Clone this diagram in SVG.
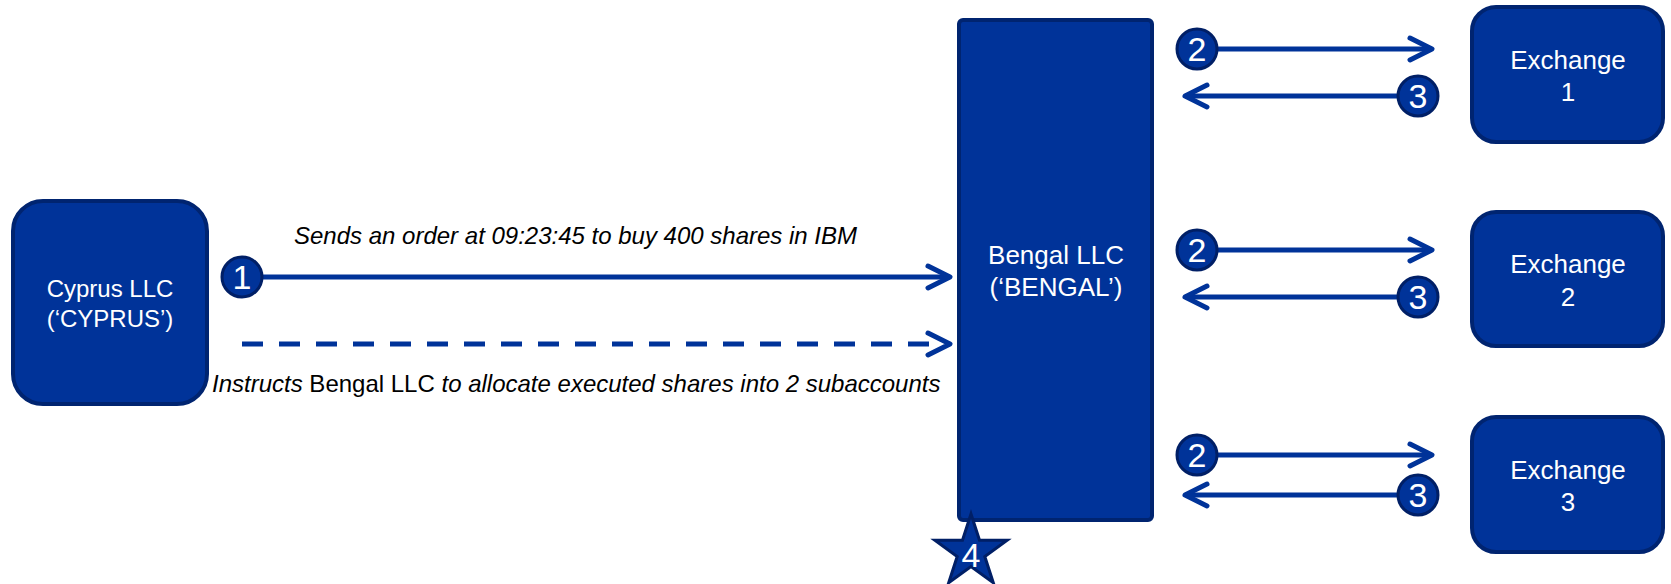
<svg xmlns="http://www.w3.org/2000/svg" width="1671" height="584" viewBox="0 0 1671 584">
<style>
.box{fill:#003399;stroke:#002470;stroke-width:4}
.lbl{font-family:"Liberation Sans",Arial,sans-serif;font-size:26px;fill:#ffffff;text-anchor:middle}
.lbl24{font-size:24px}
.cap{font-family:"Liberation Sans",Arial,sans-serif;font-size:24px;fill:#000000}
.num{font-family:"Liberation Sans",Arial,sans-serif;font-size:34px;fill:#ffffff;text-anchor:middle}
.badge{fill:#003399;stroke:#001f66;stroke-width:3}
.ln{stroke:#003399;stroke-width:5;fill:none}
</style>
<defs>
<marker id="chev" markerUnits="userSpaceOnUse" markerWidth="32" markerHeight="32" refX="26" refY="16" orient="auto" overflow="visible">
<path d="M4,5 L26,16 L4,27" fill="none" stroke="#003399" stroke-width="5" stroke-linecap="round" stroke-linejoin="round" stroke-dasharray="none"/>
</marker>
</defs>

<g id="connectors">
<line class="ln" x1="262" y1="277" x2="950" y2="277" marker-end="url(#chev)"/>
<line class="ln" x1="242" y1="344" x2="950" y2="344" stroke-dasharray="21 16" marker-end="url(#chev)"/>
<line class="ln" x1="1218" y1="49" x2="1432" y2="49" marker-end="url(#chev)"/>
<line class="ln" x1="1398" y1="96" x2="1185" y2="96" marker-end="url(#chev)"/>
<line class="ln" x1="1218" y1="250" x2="1432" y2="250" marker-end="url(#chev)"/>
<line class="ln" x1="1398" y1="297" x2="1185" y2="297" marker-end="url(#chev)"/>
<line class="ln" x1="1218" y1="455" x2="1432" y2="455" marker-end="url(#chev)"/>
<line class="ln" x1="1398" y1="495" x2="1185" y2="495" marker-end="url(#chev)"/>
<text class="cap" x="294" y="244" font-style="italic">Sends an order at 09:23:45 to buy 400 shares in IBM</text>
<text class="cap" x="212" y="392"><tspan font-style="italic">Instructs</tspan> Bengal LLC <tspan font-style="italic">to allocate executed shares into 2 subaccounts</tspan></text>
</g>

<g id="cyprus">
<rect class="box" x="13" y="201" width="194" height="203" rx="30"/>
<text class="lbl lbl24" x="110" y="297">Cyprus LLC</text>
<text class="lbl lbl24" x="110" y="327">(‘CYPRUS’)</text>
</g>

<g id="bengal">
<rect class="box" x="959" y="20" width="193" height="500" rx="4"/>
<text class="lbl" x="1056" y="264">Bengal LLC</text>
<text class="lbl" x="1056" y="296">(‘BENGAL’)</text>
</g>

<g id="exchange1">
<rect class="box" x="1472" y="7" width="191" height="135" rx="24"/>
<text class="lbl" x="1568" y="69">Exchange</text>
<text class="lbl" x="1568" y="101">1</text>
</g>
<g id="exchange2">
<rect class="box" x="1472" y="212" width="191" height="134" rx="24"/>
<text class="lbl" x="1568" y="273">Exchange</text>
<text class="lbl" x="1568" y="306">2</text>
</g>
<g id="exchange3">
<rect class="box" x="1472" y="417" width="191" height="135" rx="24"/>
<text class="lbl" x="1568" y="479">Exchange</text>
<text class="lbl" x="1568" y="511">3</text>
</g>

<g id="step1">
<circle class="badge" cx="242" cy="277" r="20"/>
<text class="num" x="242" y="289">1</text>
</g>
<g id="step2a">
<circle class="badge" cx="1197" cy="49" r="20"/>
<text class="num" x="1197" y="61">2</text>
</g>
<g id="step3a">
<circle class="badge" cx="1418" cy="96" r="20"/>
<text class="num" x="1418" y="108">3</text>
</g>
<g id="step2b">
<circle class="badge" cx="1197" cy="250" r="20"/>
<text class="num" x="1197" y="262">2</text>
</g>
<g id="step3b">
<circle class="badge" cx="1418" cy="297" r="20"/>
<text class="num" x="1418" y="309">3</text>
</g>
<g id="step2c">
<circle class="badge" cx="1197" cy="455" r="20"/>
<text class="num" x="1197" y="467">2</text>
</g>
<g id="step3c">
<circle class="badge" cx="1418" cy="495" r="20"/>
<text class="num" x="1418" y="507">3</text>
</g>

<g id="step4">
<polygon class="badge" points="971,514 979.5,540.3 1007.1,540.3 984.8,556.5 993.3,582.7 971,566.5 948.7,582.7 957.2,556.5 934.9,540.3 962.5,540.3"/>
<text class="num" x="971" y="567">4</text>
</g>
</svg>
